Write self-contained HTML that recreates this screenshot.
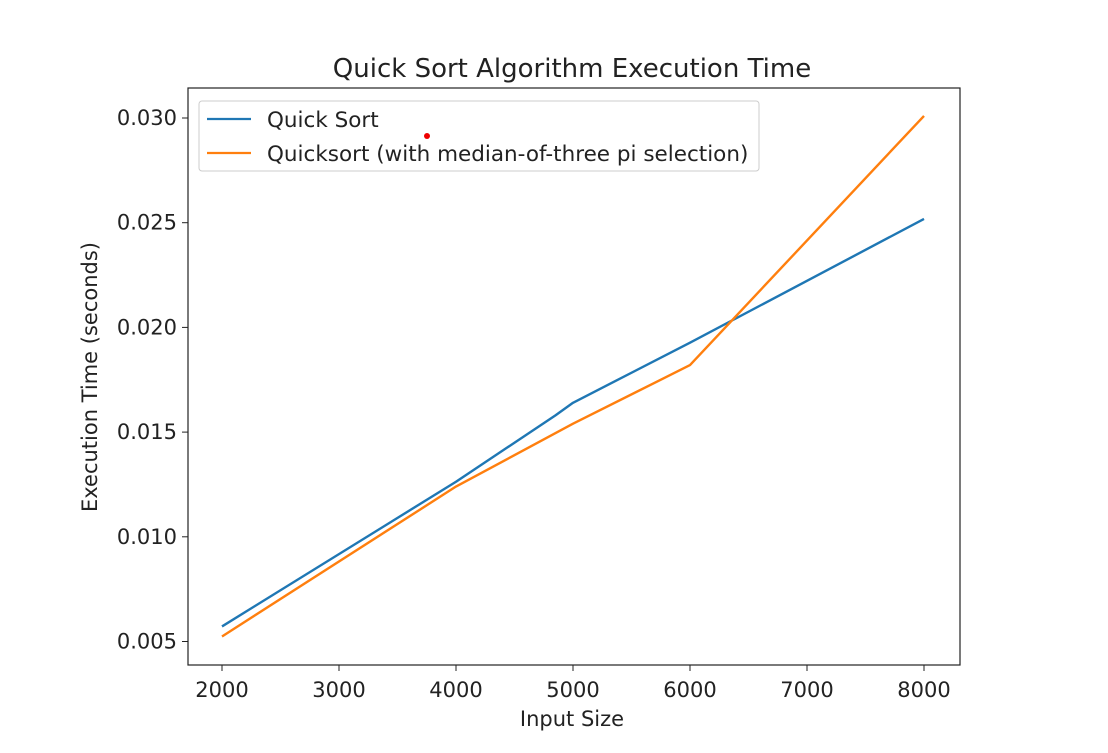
<!DOCTYPE html>
<html><head><meta charset="utf-8"><style>
body{margin:0;background:#fff;}
svg text{font-family:"DejaVu Sans","Liberation Sans",sans-serif;fill:#222;}
</style></head><body>
<svg width="1108" height="748" id="chart">
<rect width="1108" height="748" fill="#fff"/>
<text x="572" y="77" font-size="26" text-anchor="middle">Quick Sort Algorithm Execution Time</text>
<g id="plot"></g>
<text x="572" y="726" font-size="21" text-anchor="middle">Input Size</text>
<text transform="translate(97,377) rotate(-90)" font-size="21" text-anchor="middle">Execution Time (seconds)</text>
<g>
<rect x="199" y="101" width="560" height="70" rx="3" fill="#fff" stroke="#ccc"/>
<line x1="207" y1="119" x2="251" y2="119" stroke="#1f77b4" stroke-width="2.2"/>
<text x="267" y="127" font-size="21.5">Quick Sort</text>
<line x1="207" y1="153" x2="251" y2="153" stroke="#ff7f0e" stroke-width="2.2"/>
<text x="267" y="161" font-size="21.5">Quicksort (with median-of-three pi selection)</text>
</g>
<circle cx="427" cy="136" r="3" fill="#e00"/>
</svg>
<script>
const xTicks=[2000,3000,4000,5000,6000,7000,8000];
const yTicks=[0.005,0.010,0.015,0.020,0.025,0.030];
const yTickLabels=["0.005","0.010","0.015","0.020","0.025","0.030"];
const quickX=[2000,4000,4850,5000,6000,8000];
const quickY=[0.00572,0.01263,0.0158,0.0164,0.01927,0.02518];
const medianX=[2000,4000,5000,6000,8000];
const medianY=[0.00524,0.0124,0.0154,0.0182,0.0301];
const L=188,R=960,T=88,B=665;
function sx(v){return 222+(v-2000)*(924-222)/6000;}
function sy(v){return 641.5-(v-0.005)*(641.5-118)/0.025;}
const g=document.getElementById('plot');
const NS='http://www.w3.org/2000/svg';
function mk(t,a){const e=document.createElementNS(NS,t);for(const k in a)e.setAttribute(k,a[k]);g.appendChild(e);return e;}
xTicks.forEach(v=>{
 const l=mk('line',{x1:sx(v),x2:sx(v),y1:B,y2:B+6,stroke:'#222','stroke-width':1});
 
 
 const t=mk('text',{x:sx(v),y:B+32,'font-size':21,'text-anchor':'middle'});t.textContent=v;
 
 
});
yTicks.forEach((v,i)=>{
 const l=mk('line',{x1:L-6,x2:L,y1:sy(v),y2:sy(v),stroke:'#222','stroke-width':1});
 
 
 const t=mk('text',{x:L-11,y:sy(v)+7,'font-size':21,'text-anchor':'end'});t.textContent=yTickLabels[i];
 
 
});
function line(xs,ys,c,n){
 const p=mk('polyline',{points:xs.map((x,i)=>sx(x)+','+sy(ys[i])).join(' '),fill:'none',stroke:c,'stroke-width':2.4,'stroke-linejoin':'round'});
 
 
}
line(quickX,quickY,'#1f77b4','quick-sort-line');
line(medianX,medianY,'#ff7f0e','median-of-three-line');
const fr=mk('rect',{x:L,y:T,width:R-L,height:B-T,fill:'none',stroke:'#222','stroke-width':1.2});


</script>
</body></html>
